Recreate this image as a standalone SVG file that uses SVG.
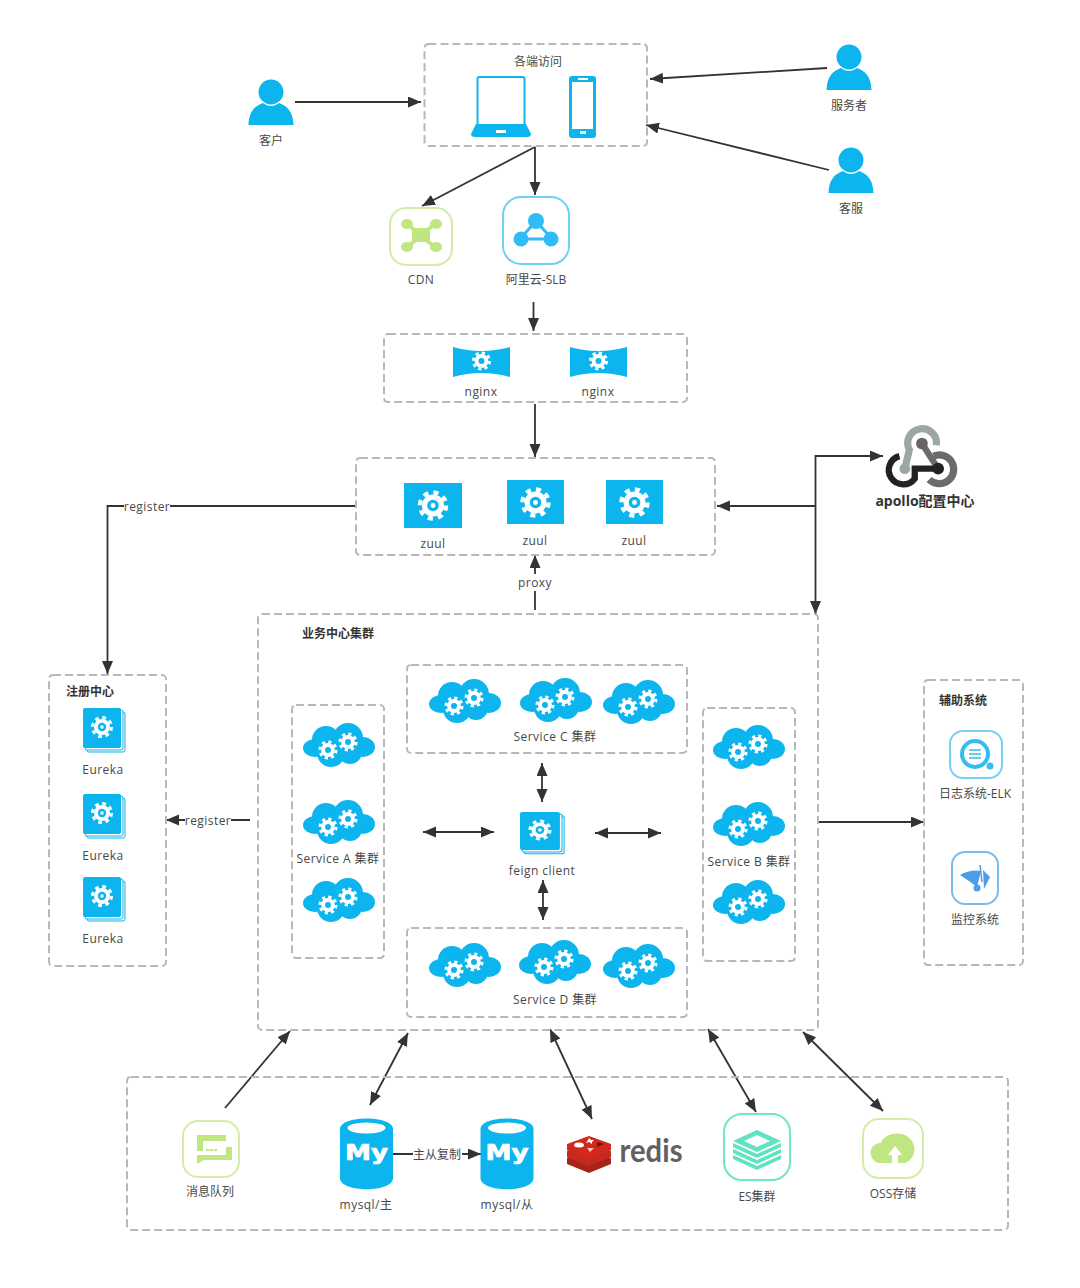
<svg xmlns="http://www.w3.org/2000/svg" width="1080" height="1288" viewBox="0 0 1080 1288">
<style>
text{font-family:"Open Sans","Noto Sans CJK SC","Noto Sans",sans-serif;font-size:12px;fill:#484848;text-anchor:middle}
.l{letter-spacing:.45px}
.b{font-weight:700;fill:#333}
.box{fill:none;stroke:#b8b8b8;stroke-width:2;stroke-dasharray:8 4}
.c{fill:none;stroke:#333;stroke-width:1.8}
.a{marker-end:url(#arr)}
.d{marker-end:url(#arr);marker-start:url(#arr)}
.lb{fill:#fff;stroke:none}
.blue{fill:#0cb5ee}
.frame{fill:#fff;stroke-width:2}
</style>
<defs>
<marker id="arr" markerUnits="userSpaceOnUse" markerWidth="14" markerHeight="12" refX="13" refY="5.500" orient="auto-start-reverse"><path d="M0 0L13 5.500L0 11z" fill="#333"/></marker>
<g id="gear"><circle r="7.600" fill="#fff"/><circle r="9" fill="none" stroke="#fff" stroke-width="3" stroke-dasharray="3.530 3.540"/><circle r="4" fill="#0cb5ee"/><circle r="1.700" fill="#fff"/></g>
<g id="sgear"><circle r="6" fill="#fff"/><circle r="7" fill="none" stroke="#fff" stroke-width="2.600" stroke-dasharray="2.750 2.750"/><circle r="2.600" fill="#0cb5ee"/></g>
<g id="person" class="blue"><circle cx="0" cy="-11" r="12.500"/><path d="M-22.500 22C-22 8-16 3-8 0C-3 4 3 4 8 0C16 3 22 8 22.500 22z"/></g>
<g id="cloud"><g class="blue"><ellipse cx="-24" cy="3" rx="12" ry="9"/><circle cx="-13" cy="-5" r="14"/><circle cx="9" cy="-7" r="15"/><ellipse cx="24" cy="2" rx="12" ry="10"/><circle cx="-8" cy="8" r="14"/><circle cx="11" cy="7" r="12"/></g><use href="#sgear" transform="translate(-11 5) scale(1.150)"/><use href="#sgear" transform="translate(9 -3) scale(1.150)"/></g>
<g id="stack"><rect x="4" y="4" width="38" height="40" rx="2" fill="#fff" stroke="#0cb5ee"/><rect x="2" y="2" width="38" height="40" rx="2" fill="#fff" stroke="#0cb5ee"/><rect width="38" height="40" rx="2" class="blue"/><use href="#gear" transform="translate(19 19) scale(1.050)"/></g>
<g id="db"><path class="blue" d="M0 11C0-3 53-3 53 11V60C53 75 0 75 0 60z"/><ellipse cx="26.500" cy="10" rx="19" ry="5.500" fill="#fff"/><text x="26.500" y="42" textLength="43" lengthAdjust="spacingAndGlyphs" style="font:700 21px 'DejaVu Sans',sans-serif;fill:#fff;stroke:#fff;stroke-width:.7;text-anchor:middle">My</text></g>
<path id="nginxs" class="blue" d="M0 0Q28 8 57 0V30Q28 22 0 30z"/>
</defs>

<g id="connectors">
<path class="c a" d="M295 102H421"/>
<path class="c a" d="M827 68L650 79"/>
<path class="c a" d="M829 170L646 125"/>
<path class="c a" d="M535 147V195"/>
<path class="c a" d="M535 147L422 206"/>
<path class="c a" d="M533.500 302V331"/>
<path class="c a" d="M535 404V457"/>
<path class="c a" d="M535 610V555"/>
<path class="c a" d="M356 506H107.500V674"/>
<path class="c a" d="M815.500 506H717"/>
<path class="c d" d="M883 456H815.500V614"/>
<path class="c a" d="M250 820H166"/>
<path class="c d" d="M423 832H494"/>
<path class="c d" d="M595 833H661"/>
<path class="c d" d="M542 763V802"/>
<path class="c d" d="M543 880V920"/>
<path class="c a" d="M819 822H924"/>
<path class="c a" d="M225 1108L290 1031"/>
<path class="c d" d="M370 1105L408 1033"/>
<path class="c d" d="M550 1029L592 1119"/>
<path class="c d" d="M708 1029L756 1112"/>
<path class="c d" d="M803 1032L883 1111"/>
<path class="c a" d="M393 1154H481"/>
<rect class="lb" x="124" y="498" width="46" height="16"/><text class="l" x="147" y="510.500">register</text>
<rect class="lb" x="185" y="812" width="46" height="16"/><text class="l" x="208" y="824.500">register</text>
<rect class="lb" x="517" y="574" width="36" height="17"/><text class="l" x="535" y="586.500">proxy</text>
<rect class="lb" x="413" y="1146" width="49" height="16"/><text x="437" y="1158.500">主从复制</text>
</g>

<g id="access"><rect class="box" x="424.500" y="44" width="222.500" height="102" rx="4"/><text x="538" y="66">各端访问</text>
<rect x="477.500" y="77" width="47" height="50" rx="2" fill="#fff" stroke="#0cb5ee" stroke-width="2"/><path class="blue" d="M476 124H526L531 134Q531 137 527 137H475Q471 137 471 134z"/><rect x="496" y="130" width="10" height="3" fill="#fff"/>
<rect x="569" y="76" width="27" height="62" rx="3" class="blue"/><rect x="572" y="82" width="21" height="47" fill="#fff"/><rect x="578" y="78" width="10" height="2" fill="#fff"/><rect x="580" y="131" width="6" height="3" fill="#fff"/></g>
<g id="customer"><use href="#person" transform="translate(271 103)"/><text x="271" y="144.500">客户</text></g>
<g id="provider"><use href="#person" transform="translate(849 68)"/><text x="849" y="109.500">服务者</text></g>
<g id="support"><use href="#person" transform="translate(851 171)"/><text x="851" y="212.500">客服</text></g>

<g id="cdn"><rect class="frame" x="390" y="208" width="62" height="57" rx="16" stroke="#d3eda8"/><g fill="#bfe681"><rect x="412" y="228" width="18" height="14" rx="3"/><path d="M405 222L437 249M437 222L405 249" stroke="#bfe681" stroke-width="4"/><ellipse cx="407" cy="224" rx="6" ry="5"/><ellipse cx="436" cy="224" rx="6" ry="5"/><ellipse cx="407" cy="247" rx="6" ry="5"/><ellipse cx="436" cy="247" rx="6" ry="5"/></g><text class="l" x="421" y="283.500">CDN</text></g>
<g id="slb"><rect class="frame" x="503" y="197" width="66" height="67" rx="18" stroke="#6ed0f4"/><path d="M536 221L520 239H552z" fill="none" stroke="#2fbdf5" stroke-width="3"/><g fill="#2fbdf5"><circle cx="536" cy="221" r="8"/><circle cx="521" cy="239" r="7.500"/><circle cx="551" cy="239" r="7.500"/></g><text x="536" y="283.500">阿里云-SLB</text></g>

<g id="nginx-group"><rect class="box" x="384" y="334" width="303" height="68" rx="4"/>
<use href="#nginxs" transform="translate(453 347)"/><use href="#sgear" transform="translate(481.500 361) scale(1.150)"/><text class="l" x="481" y="395.500">nginx</text>
<use href="#nginxs" transform="translate(570 347)"/><use href="#sgear" transform="translate(598.500 361) scale(1.150)"/><text class="l" x="598" y="395.500">nginx</text></g>

<g id="zuul-group"><rect class="box" x="356" y="458" width="359" height="97" rx="4"/>
<rect class="blue" x="404" y="483" width="58" height="45"/><use href="#gear" transform="translate(433 505.500) scale(1.450)"/><text class="l" x="433" y="547.500">zuul</text>
<rect class="blue" x="507" y="480" width="57" height="44"/><use href="#gear" transform="translate(535.500 502.500) scale(1.450)"/><text class="l" x="535" y="544.500">zuul</text>
<rect class="blue" x="606" y="480" width="57" height="44"/><use href="#gear" transform="translate(634.500 502.500) scale(1.450)"/><text class="l" x="634" y="544.500">zuul</text></g>

<g id="apollo"><g transform="translate(921.500 457) scale(.9) translate(-921.500 -457)"><g fill="none"><path d="M938 444A16 16 0 1 0 908 449L903 470" stroke="#9aa89f" stroke-width="8"/><path d="M922 442L938 467" stroke="#6b6b6b" stroke-width="7"/><path d="M935 456A16 16 0 1 1 930 482" stroke="#6b6b6b" stroke-width="8"/><path d="M897 456A16 16 0 1 0 914 481V470H940" stroke="#222" stroke-width="7"/></g><circle cx="922" cy="442" r="6.500" fill="#666"/><circle cx="903" cy="470" r="6" fill="#9aa89f"/><circle cx="940" cy="470" r="6.500" fill="#222"/></g><text class="b" x="925" y="506" style="font-size:14px">apollo配置中心</text></g>

<g id="eureka-group"><rect class="box" x="49" y="675" width="117" height="291" rx="4"/><text class="b" x="90" y="695.500">注册中心</text>
<use href="#stack" transform="translate(83 708)"/><text class="l" x="103" y="773.500">Eureka</text>
<use href="#stack" transform="translate(83 794)"/><text class="l" x="103" y="859.500">Eureka</text>
<use href="#stack" transform="translate(83 877)"/><text class="l" x="103" y="942.500">Eureka</text></g>

<g id="business"><rect class="box" x="258" y="614" width="560" height="416" rx="4"/><text class="b" x="338" y="637.500">业务中心集群</text></g>
<g id="service-a"><rect class="box" x="292" y="705" width="92" height="253" rx="4"/><use href="#cloud" transform="translate(339 745)"/><use href="#cloud" transform="translate(339 822)"/><use href="#cloud" transform="translate(339 900)"/><text class="l" x="338" y="862.500">Service A 集群</text></g>
<g id="service-c"><rect class="box" x="407" y="665" width="280" height="88" rx="4"/><use href="#cloud" transform="translate(465 701)"/><use href="#cloud" transform="translate(556 700)"/><use href="#cloud" transform="translate(639 702)"/><text class="l" x="555" y="740.500">Service C 集群</text></g>
<g id="service-b"><rect class="box" x="703" y="708" width="92" height="253" rx="4"/><use href="#cloud" transform="translate(749 747)"/><use href="#cloud" transform="translate(749 824)"/><use href="#cloud" transform="translate(749 902)"/><text class="l" x="749" y="865.500">Service B 集群</text></g>
<g id="service-d"><rect class="box" x="407" y="928" width="280" height="89" rx="4"/><use href="#cloud" transform="translate(465 965)"/><use href="#cloud" transform="translate(555 962)"/><use href="#cloud" transform="translate(639 966)"/><text class="l" x="555" y="1003.500">Service D 集群</text></g>
<g id="feign"><use href="#stack" transform="translate(520 812) scale(1.050 .950)"/><text class="l" x="542" y="874.500">feign client</text></g>

<g id="aux"><rect class="box" x="924" y="680" width="99" height="285" rx="4"/><text class="b" x="963" y="704.500">辅助系统</text>
<rect class="frame" x="950" y="731" width="52" height="47" rx="13" stroke="#7ad0f0"/><circle cx="975" cy="754" r="13" fill="none" stroke="#35bdef" stroke-width="4"/><circle cx="990" cy="766" r="3.500" fill="#35bdef"/><path d="M969 750H981M969 754H981M969 758H981" stroke="#35bdef" stroke-width="1.500"/><text x="975" y="797.500">日志系统-ELK</text>
<rect class="frame" x="952" y="852" width="46" height="52" rx="13" stroke="#7cbcec"/><path d="M960 875Q970 869 981 871L977 887Q968 880 960 875z" fill="#4a9fe6"/><path d="M983 870L990 877L984 889z" fill="#4a9fe6"/><path d="M980 865L982 882" stroke="#4a9fe6" stroke-width="1.500"/><circle cx="977" cy="888" r="3.500" fill="#4a9fe6"/><text x="975" y="923.500">监控系统</text></g>

<g id="infra"><rect class="box" x="127" y="1077" width="881" height="153" rx="4"/></g>
<g id="mq"><rect class="frame" x="183" y="1121" width="56" height="56" rx="15" stroke="#d3eda8"/><path d="M197 1135H226V1141H203V1151H197z" fill="#bfe681"/><path d="M226 1147H232V1160H204L197 1164V1155H226z" fill="#bfe681"/><path d="M206 1149h3v2h-3zM210 1149h3v2h-3zM214 1149h3v2h-3z" fill="#bfe681"/><text x="210" y="1195.500">消息队列</text></g>
<g id="mysql-master"><use href="#db" transform="translate(340 1118)"/><text class="l" x="366" y="1208.500">mysql/主</text></g>
<g id="mysql-slave"><use href="#db" transform="translate(480.500 1118)"/><text class="l" x="507" y="1208.500">mysql/从</text></g>
<g id="redis"><path d="M567 1158L589 1149L611 1158V1164L589 1173L567 1164z" fill="#a82418"/><path d="M567 1151L589 1142L611 1151V1157L589 1166L567 1157z" fill="#c62a1e"/><path d="M567 1144L589 1136L611 1144V1150L589 1159L567 1150z" fill="#d3281c"/><ellipse cx="579" cy="1145" rx="5" ry="2.500" fill="#fff"/><path d="M587 1148h7l-4 4z" fill="#f4c6c0"/><path d="M589 1138l2 2 3 0-2 2 0 2-3-2-3 1 2-3z" fill="#fff"/><path d="M597 1142l7 2-7 3z" fill="#6e1510"/><text x="651" y="1162" textLength="63" lengthAdjust="spacingAndGlyphs" style="font-family:Lato,sans-serif;font-size:32px;font-weight:700;fill:#616161">redis</text></g>
<g id="es"><rect class="frame" x="724" y="1114" width="66" height="66" rx="18" stroke="#6fe6c6"/><g fill="#5fe3c0"><path d="M733 1149L757 1160L781 1149V1153L757 1164L733 1153z"/><path d="M733 1155L757 1166L781 1155V1159L757 1170L733 1159z"/><path d="M733 1143L757 1154L781 1143V1147L757 1158L733 1147z"/><path d="M733 1141L757 1130L781 1141L757 1152zM744 1141L757 1147L770 1141L757 1135z" fill-rule="evenodd"/></g><text x="757" y="1200.500">ES集群</text></g>
<g id="oss"><rect class="frame" x="863" y="1119" width="60" height="59" rx="16" stroke="#d3eda8"/><path d="M872 1158C868 1150 873 1143 881 1143C884 1133 903 1129 911 1140C918 1148 914 1160 905 1163H880Q875 1163 872 1158z" fill="#bfe681"/><path d="M895 1146L888 1155H892V1165H898V1155H902z" fill="#fff"/><text x="893" y="1197.500">OSS存储</text></g>
</svg>
